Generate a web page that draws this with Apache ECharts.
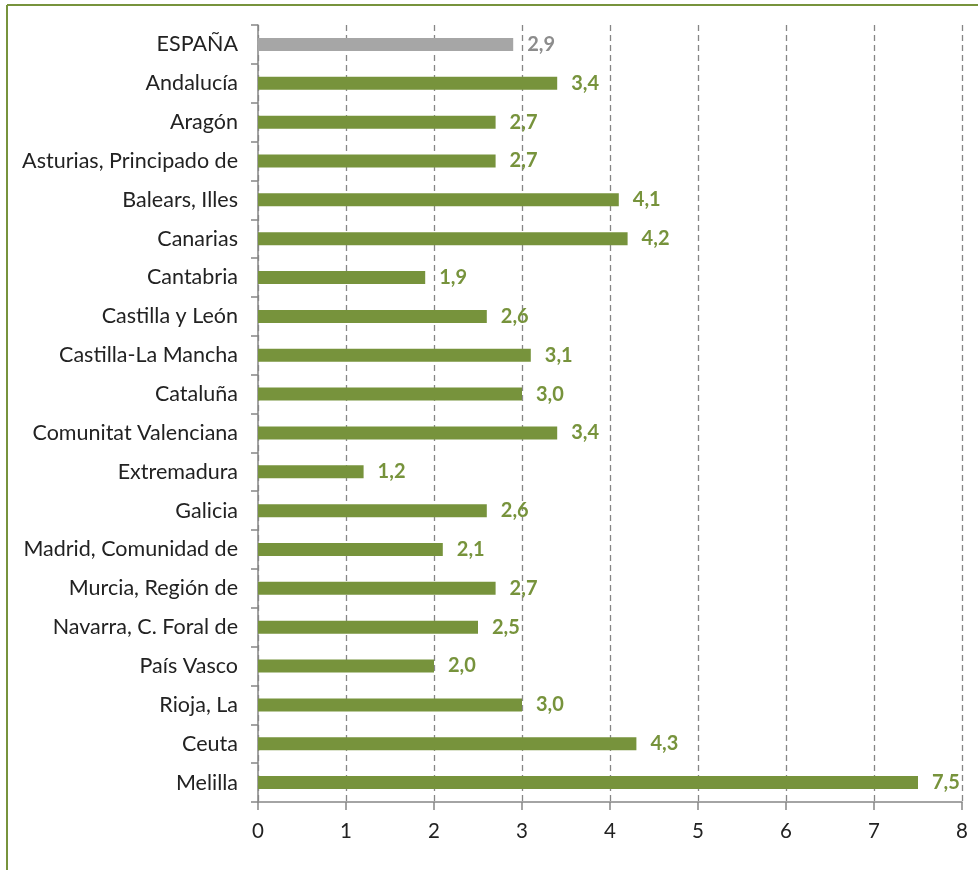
<!DOCTYPE html>
<html><head><meta charset="utf-8">
<script src="https://cdn.jsdelivr.net/npm/echarts@6/dist/echarts.min.js"></script>
<style>html,body{margin:0;padding:0;background:#fff}#c{width:978px;height:870px}</style>
</head><body><div id="c"></div>
<script>
const categories = ["ESPAÑA","Andalucía","Aragón","Asturias, Principado de","Balears, Illes","Canarias","Cantabria","Castilla y León","Castilla-La Mancha","Cataluña","Comunitat Valenciana","Extremadura","Galicia","Madrid, Comunidad de","Murcia, Región de","Navarra, C. Foral de","País Vasco","Rioja, La","Ceuta","Melilla"];
const values = [2.9,3.4,2.7,2.7,4.1,4.2,1.9,2.6,3.1,3.0,3.4,1.2,2.6,2.1,2.7,2.5,2.0,3.0,4.3,7.5];
const xTicks = [0,1,2,3,4,5,6,7,8];

const GREEN = '#77933C', GRAY = '#A6A6A6';
const chart = echarts.init(document.getElementById('c'));
const font = 'Lato, "Open Sans", sans-serif';
chart.setOption({
  animation: false,
  grid: {left: 258, right: 16, top: 25, bottom: 68, containLabel: false},
  xAxis: {
    type: 'value', min: 0, max: 8, interval: 1,
    axisLine: {show: true, lineStyle: {color: '#868686', width: 1.5}},
    axisTick: {show: true, length: 8, lineStyle: {color: '#868686', width: 1.5}},
    axisLabel: {color: '#222', fontSize: 20.5, fontFamily: font, margin: 19,
      formatter: v => xTicks.includes(v) ? String(v) : ''},
    splitLine: {show: true, lineStyle: {color: '#868686', type: [6,4], width: 1.3}}
  },
  yAxis: {
    type: 'category', data: categories, inverse: true,
    axisLine: {show: true, lineStyle: {color: '#868686', width: 1.5}},
    axisTick: {show: true, length: 7, lineStyle: {color: '#868686', width: 1.5}},
    axisLabel: {color: '#222', fontSize: 21.5, fontFamily: font, margin: 20}
  },
  series: [{
    type: 'bar', barWidth: 13,
    data: values.map((v, i) => ({value: v, itemStyle: {color: i === 0 ? GRAY : GREEN},
      label: {color: i === 0 ? '#8C8C8C' : GREEN}})),
    label: {show: true, position: 'right', distance: 14, fontSize: 20, fontWeight: 'bold',
      fontFamily: font, formatter: p => p.value.toFixed(1).replace('.', ',')}
  }],
  graphic: [
    {type: 'line', shape: {x1: 7, y1: 5, x2: 978, y2: 5}, style: {stroke: GREEN, lineWidth: 2}},
    {type: 'line', shape: {x1: 7, y1: 5, x2: 7, y2: 870}, style: {stroke: GREEN, lineWidth: 2}}
  ]
});
</script></body></html>
